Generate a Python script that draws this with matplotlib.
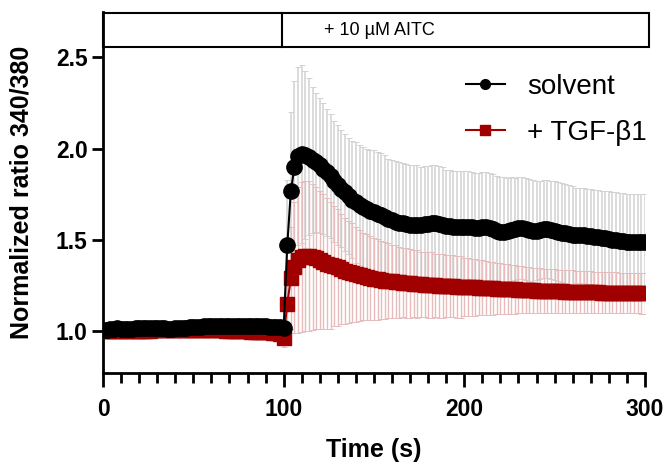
import numpy as np
import matplotlib
matplotlib.use("Agg")
from matplotlib import pyplot as plt
from matplotlib.patches import Rectangle
from matplotlib.lines import Line2D

plt.rcParams['font.family'] = ['Liberation Sans', 'DejaVu Sans']

# time axis, one frame every 2 s
time_s = np.arange(0, 301, 2)

solvent_mean = [
    1.005, 1.008, 1.010, 1.012, 1.016, 1.013, 1.012, 1.013, 1.013, 1.014,
    1.014, 1.015, 1.015, 1.015, 1.016, 1.016, 1.016, 1.015, 1.013, 1.012,
    1.015, 1.017, 1.018, 1.019, 1.020, 1.021, 1.022, 1.024, 1.025, 1.026,
    1.027, 1.028, 1.028, 1.028, 1.027, 1.025, 1.026, 1.028, 1.029, 1.029,
    1.029, 1.028, 1.028, 1.027, 1.026, 1.025, 1.024, 1.023, 1.022, 1.020,
    1.016, 1.47, 1.77, 1.90, 1.96, 1.97, 1.965, 1.955, 1.94, 1.925,
    1.91, 1.89, 1.87, 1.85, 1.82, 1.80, 1.78, 1.76, 1.74, 1.72,
    1.705, 1.69, 1.68, 1.67, 1.66, 1.65, 1.64, 1.635, 1.625, 1.615,
    1.61, 1.60, 1.595, 1.59, 1.585, 1.58, 1.58, 1.58, 1.58, 1.585,
    1.585, 1.59, 1.59, 1.585, 1.58, 1.575, 1.575, 1.57, 1.57, 1.57,
    1.57, 1.57, 1.57, 1.565, 1.565, 1.57, 1.57, 1.565, 1.56, 1.55,
    1.545, 1.545, 1.55, 1.555, 1.56, 1.565, 1.565, 1.56, 1.555, 1.55,
    1.55, 1.555, 1.56, 1.56, 1.555, 1.55, 1.545, 1.54, 1.535, 1.53,
    1.525, 1.525, 1.525, 1.525, 1.52, 1.52, 1.515, 1.515, 1.51, 1.51,
    1.505, 1.50, 1.50, 1.495, 1.495, 1.49, 1.49, 1.49, 1.49, 1.49, 1.49,
]
solvent_sd = [
    0.006, 0.008, 0.010, 0.010, 0.012, 0.012, 0.012, 0.012, 0.012, 0.012,
    0.012, 0.013, 0.013, 0.013, 0.014, 0.014, 0.015, 0.016, 0.025, 0.028,
    0.018, 0.015, 0.014, 0.014, 0.014, 0.015, 0.015, 0.015, 0.015, 0.016,
    0.016, 0.016, 0.016, 0.016, 0.017, 0.018, 0.017, 0.016, 0.016, 0.016,
    0.016, 0.016, 0.016, 0.016, 0.016, 0.016, 0.016, 0.016, 0.016, 0.016,
    0.02, 0.36, 0.43, 0.47, 0.49, 0.49, 0.46, 0.43, 0.40, 0.38,
    0.37, 0.36, 0.35, 0.34, 0.33, 0.33, 0.32, 0.32, 0.32, 0.32,
    0.33, 0.33, 0.33, 0.33, 0.33, 0.34, 0.34, 0.34, 0.34, 0.33,
    0.33, 0.33, 0.33, 0.33, 0.33, 0.33, 0.33, 0.33, 0.32, 0.32,
    0.32, 0.32, 0.32, 0.32, 0.32, 0.31, 0.31, 0.31, 0.31, 0.31,
    0.31, 0.31, 0.30, 0.30, 0.30, 0.30, 0.30, 0.30, 0.30, 0.30,
    0.30, 0.30, 0.29, 0.29, 0.28, 0.28, 0.28, 0.28, 0.28, 0.28,
    0.27, 0.27, 0.27, 0.27, 0.27, 0.27, 0.27, 0.27, 0.27, 0.27,
    0.27, 0.26, 0.26, 0.26, 0.26, 0.26, 0.26, 0.26, 0.26, 0.26,
    0.26, 0.26, 0.26, 0.26, 0.26, 0.26, 0.26, 0.26, 0.26, 0.26, 0.26,
]
tgf_mean = [
    0.998, 0.999, 1.000, 1.000, 1.000, 1.001, 1.001, 1.001, 1.001, 1.002,
    1.002, 1.002, 1.002, 1.002, 1.003, 1.003, 1.003, 1.003, 1.003, 1.003,
    1.003, 1.003, 1.003, 1.004, 1.004, 1.004, 1.004, 1.004, 1.004, 1.004,
    1.004, 1.004, 1.003, 1.003, 1.002, 1.002, 1.001, 1.000, 1.000, 0.999,
    0.998, 0.997, 0.996, 0.995, 0.994, 0.993, 0.992, 0.991, 0.990, 0.986,
    0.96, 1.15, 1.29, 1.35, 1.39, 1.405, 1.41, 1.41, 1.405, 1.40,
    1.39, 1.38, 1.37, 1.36, 1.355, 1.35, 1.34, 1.33, 1.325, 1.32,
    1.31, 1.305, 1.30, 1.295, 1.29, 1.285, 1.283, 1.28, 1.277, 1.275,
    1.272, 1.27, 1.268, 1.266, 1.264, 1.262, 1.26, 1.258, 1.256, 1.255,
    1.253, 1.252, 1.25, 1.249, 1.248, 1.247, 1.246, 1.245, 1.244, 1.243,
    1.242, 1.241, 1.24, 1.239, 1.238, 1.237, 1.236, 1.235, 1.234, 1.233,
    1.232, 1.231, 1.23, 1.229, 1.228, 1.227, 1.226, 1.225, 1.224, 1.223,
    1.222, 1.221, 1.22, 1.22, 1.219, 1.218, 1.218, 1.217, 1.216, 1.216,
    1.215, 1.215, 1.214, 1.214, 1.213, 1.213, 1.212, 1.212, 1.211, 1.211,
    1.21, 1.21, 1.21, 1.209, 1.209, 1.208, 1.208, 1.207, 1.207, 1.206, 1.206,
]
tgf_sd = [
    0.005, 0.006, 0.007, 0.008, 0.008, 0.008, 0.008, 0.008, 0.008, 0.008,
    0.008, 0.008, 0.008, 0.008, 0.008, 0.008, 0.009, 0.009, 0.009, 0.009,
    0.009, 0.009, 0.009, 0.009, 0.010, 0.010, 0.010, 0.010, 0.010, 0.010,
    0.010, 0.010, 0.010, 0.010, 0.010, 0.011, 0.011, 0.011, 0.011, 0.012,
    0.012, 0.012, 0.012, 0.013, 0.013, 0.013, 0.014, 0.014, 0.015, 0.020,
    0.05, 0.17, 0.28, 0.36, 0.40, 0.41, 0.41, 0.41, 0.40, 0.39,
    0.38, 0.37, 0.36, 0.35, 0.33, 0.32, 0.30, 0.29, 0.28, 0.27,
    0.26, 0.25, 0.24, 0.235, 0.23, 0.225, 0.22, 0.215, 0.21, 0.205,
    0.20, 0.20, 0.195, 0.19, 0.19, 0.19, 0.185, 0.185, 0.18, 0.18,
    0.18, 0.18, 0.175, 0.175, 0.175, 0.17, 0.17, 0.17, 0.17, 0.17,
    0.16, 0.158, 0.156, 0.154, 0.152, 0.15, 0.148, 0.146, 0.144, 0.142,
    0.14, 0.138, 0.136, 0.134, 0.132, 0.13, 0.128, 0.127, 0.126, 0.125,
    0.124, 0.123, 0.122, 0.121, 0.12, 0.12, 0.119, 0.118, 0.118, 0.117,
    0.117, 0.116, 0.116, 0.115, 0.115, 0.114, 0.114, 0.113, 0.113, 0.112,
    0.112, 0.112, 0.111, 0.111, 0.111, 0.11, 0.11, 0.11, 0.11, 0.11, 0.11,
]

dark_red = '#a00000'

fig = plt.figure(figsize=(6.69, 4.66), dpi=100)
ax = fig.add_axes([0.154, 0.1996, 0.81, 0.775])

# error bars first, then the means on top
eb = ax.errorbar(time_s, solvent_mean, yerr=solvent_sd, fmt='none', ecolor='#d2d2d2',
                 elinewidth=1.1, capsize=2, capthick=0.7, zorder=1)
for cap in eb[1]:
    cap.set_color('#777777')
eb = ax.errorbar(time_s, tgf_mean, yerr=tgf_sd, fmt='none', ecolor='#e6bcbc',
                 elinewidth=1.0, capsize=2, capthick=0.7, zorder=2)
for cap in eb[1]:
    cap.set_color('#bb5555')

ax.plot(time_s, tgf_mean, '-s', color=dark_red, markersize=9.5, lw=1.5, zorder=3)
ax.plot(time_s, solvent_mean, '-o', color='black', markersize=11, lw=1.5, zorder=4)

ax.set_xlim(0, 300)
ax.set_ylim(0.77, 2.75)
ax.set_xticks([0, 100, 200, 300])
ax.set_xticks(np.arange(0, 301, 10), minor=True)
ax.set_yticks([1.0, 1.5, 2.0, 2.5])
ax.set_yticklabels(['1.0', '1.5', '2.0', '2.5'])
for s in ['top', 'right']:
    ax.spines[s].set_visible(False)
for s in ['left', 'bottom']:
    ax.spines[s].set_linewidth(2)
ax.tick_params(axis='x', which='major', length=10, width=2, labelsize=16.5, pad=8)
ax.tick_params(axis='x', which='minor', length=7, width=2)
ax.tick_params(axis='y', which='major', length=8, width=2, labelsize=16.5, pad=3)
for lab in ax.get_xticklabels() + ax.get_yticklabels():
    lab.set_fontweight('bold')

ax.set_xlabel('Time (s)', fontsize=18, fontweight='bold', labelpad=12)
ax.set_ylabel('Normalized ratio 340/380', fontsize=18, fontweight='bold')
ax.yaxis.set_label_coords(-0.129, 0.5)

# stimulus bar above the traces
ax.add_patch(Rectangle((0, 2.555), 302, 0.19, fill=False, edgecolor='black', lw=1.5,
                       clip_on=False, zorder=5))
ax.plot([99, 99], [2.555, 2.745], color='black', lw=1.5, clip_on=False, zorder=5)
ax.text(153, 2.65, '+ 10 µM AITC', ha='center', va='center', fontsize=13)

handles = [
    Line2D([], [], color='black', marker='o', markersize=7, lw=1.5),
    Line2D([], [], color=dark_red, marker='s', markersize=7, lw=1.5),
]
ax.legend(handles, ['solvent', '+ TGF-β1'], loc='upper left', frameon=False,
          fontsize=20, handlelength=1.4, handletextpad=0.8, labelspacing=0.72,
          bbox_to_anchor=(441 / 669, 1 - 49 / 466), bbox_transform=fig.transFigure)

plt.savefig('out.png', dpi=100)
